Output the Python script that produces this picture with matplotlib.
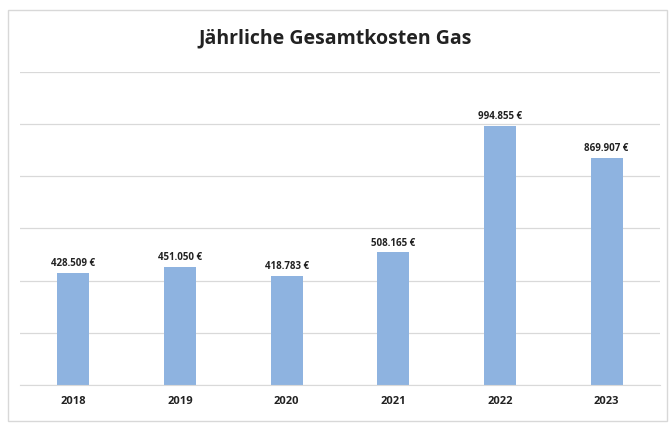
import matplotlib.pyplot as plt
import numpy as np

jahre = ["2018", "2019", "2020", "2021", "2022", "2023"]
kosten = [428509, 451050, 418783, 508165, 994855, 869907]
beschriftung = ["428.509 €", "451.050 €", "418.783 €", "508.165 €", "994.855 €", "869.907 €"]

plt.rcParams['font.family'] = ['Open Sans', 'DejaVu Sans']

fig = plt.figure(figsize=(6.71, 4.23), dpi=100)
ax = fig.add_axes([20/671, 38/423, 640/671, 313/423])

x = np.arange(len(jahre))
ax.bar(x, kosten, width=0.3, color='#8EB3E0', zorder=2)
for xi, k, t in zip(x, kosten, beschriftung):
    ax.text(xi, k + 15000, t, ha='center', va='bottom', fontsize=7, fontweight='bold', color='#222222')

ax.set_ylim(0, 1200000)
ax.set_xlim(-0.5, 5.5)
ax.set_yticks(np.arange(0, 1200001, 200000))
ax.yaxis.grid(True, color='#d9d9d9', linewidth=0.9, zorder=0)
ax.tick_params(axis='y', left=False, labelleft=False)
ax.tick_params(axis='x', length=0, pad=8)
ax.set_xticks(x)
ax.set_xticklabels(jahre, fontsize=8, fontweight='bold', color='#222222')
for s in ['top', 'right', 'left']:
    ax.spines[s].set_visible(False)
ax.spines['bottom'].set_color('#d9d9d9')

fig.text(0.5, 1 - 38/423, "Jährliche Gesamtkosten Gas", ha='center', va='center',
         fontsize=14, fontweight='bold', color='#222222')

# Rahmen
fig.patches.append(plt.Rectangle((8/671, 0.004), 1 - 12/671, 1 - 12/423, transform=fig.transFigure,
                                 fill=False, edgecolor='#d8d8d8', linewidth=1))

fig.savefig("out.png", dpi=100)
